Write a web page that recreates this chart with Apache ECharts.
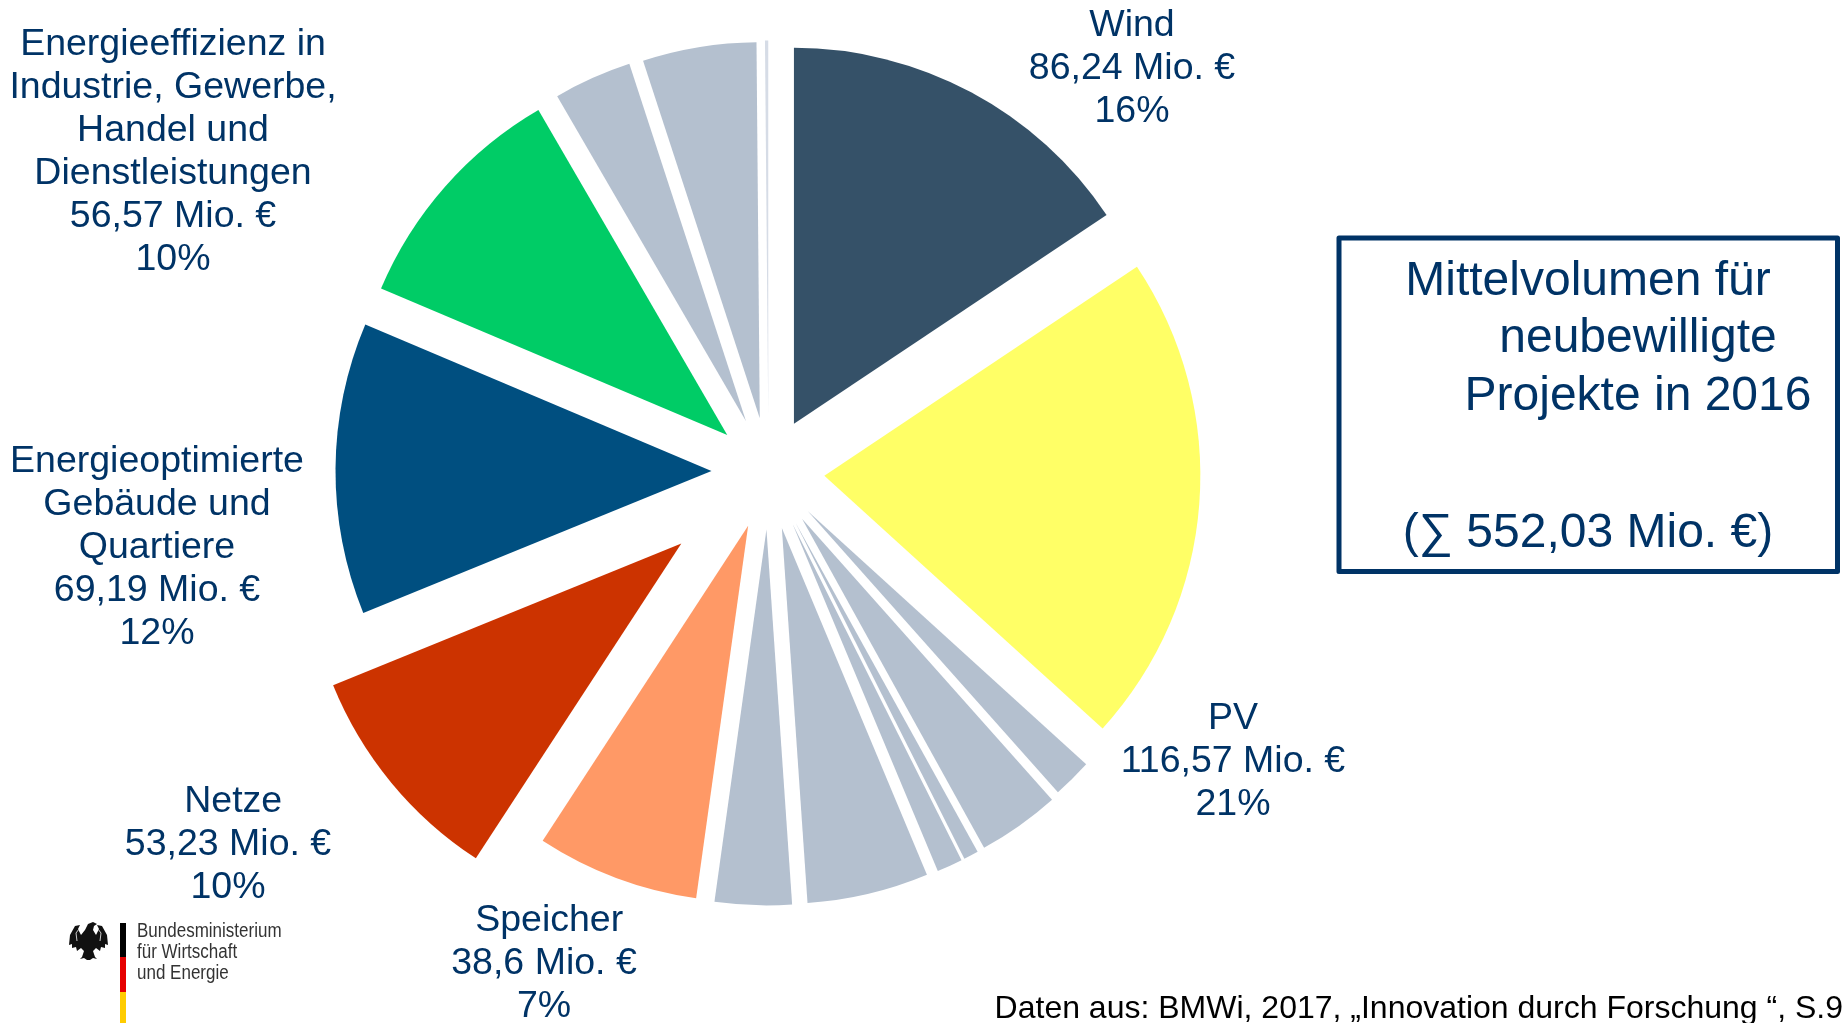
<!DOCTYPE html>
<html>
<head>
<meta charset="utf-8">
<title>Mittelvolumen 2016</title>
<script src="https://cdn.jsdelivr.net/npm/echarts@6/dist/echarts.min.js"></script>
<style>
  html, body { margin: 0; padding: 0; background: #fff; }
  #chart { width: 1843px; height: 1023px; }
</style>
</head>
<body>
<div id="chart"></div>
<script>
// values in Mio. EUR, clockwise from 12 o'clock. unlabelled grey ones are estimated from the angles
const sliceNames = ['Wind', 'PV', 'g1', 'g2', 'g3', 'g4', 'g5', 'g6', 'Speicher', 'Netze', 'Gebäude', 'Effizienz', 'g7', 'g8', 'g9'];
const sliceValues = [86.24, 116.57, 9.3, 19.5, 3.5, 6.1, 28.8, 18.2, 38.6, 53.23, 69.19, 56.57, 18.5, 26.96, 0.77];
const sliceColors = ['#355168', '#ffff66', '#b4c0cf', '#b4c0cf', '#b4c0cf', '#b4c0cf', '#b4c0cf', '#b4c0cf', '#ff9966', '#cc3300', '#004f80', '#00cc66', '#b4c0cf', '#b4c0cf', '#d6dce6'];
const sliceOffsets = [54, 56, 56, 58, 58, 58, 58, 58, 58, 113, 57, 55, 55, 54, 55];

const windLabel = 'Wind\n86,24 Mio. €\n16%';
const pvLabel = 'PV\n116,57 Mio. €\n21%';
const netzeLabel = '\u00a0Netze\n53,23 Mio. €\n10%';
const speicherLabel = '\u00a0Speicher\n38,6 Mio. €\n7%';
const gebaeudeLabel = 'Energieoptimierte\nGebäude und\nQuartiere\n69,19 Mio. €\n12%';
const effizienzLabel = 'Energieeffizienz in\nIndustrie, Gewerbe,\nHandel und\nDienstleistungen\n56,57 Mio. €\n10%';
const boxLines = ['Mittelvolumen für', 'neubewilligte', 'Projekte in 2016', '(∑ 552,03 Mio. €)'];
const sourceText = 'Daten aus: BMWi, 2017, „Innovation durch Forschung “, S.9';
const logoText = 'Bundesministerium\nfür Wirtschaft\nund Energie';

const navy = '#003366';
const font = '"Liberation Sans", Arial, sans-serif';

// every wedge is moved out by its own distance, selectedOffset only works per series
const series = sliceValues.map((v, i) => ({
  type: 'pie',
  center: [768.5, 471.5],
  radius: [0, 376],
  startAngle: 90,
  clockwise: true,
  silent: true,
  selectedMode: 'multiple',
  selectedOffset: sliceOffsets[i],
  avoidLabelOverlap: false,
  label: { show: false },
  labelLine: { show: false },
  emphasis: { disabled: true },
  data: sliceValues.map((value, j) => ({
    name: sliceNames[j],
    value: value,
    selected: j === i,
    itemStyle: { color: j === i ? sliceColors[j] : 'transparent', borderWidth: 0 }
  }))
}));

function label(text, x, top) {
  return {
    type: 'text', x: x, y: top, silent: true,
    style: { text: text, fill: navy, font: '37.5px ' + font, lineHeight: 43, align: 'center', verticalAlign: 'top' }
  };
}
function boxLine(text, x, y) {
  return {
    type: 'text', x: x, y: y, silent: true,
    style: { text: text, fill: navy, font: '48px ' + font, align: 'center', verticalAlign: 'middle' }
  };
}

const graphic = [
  label(windLabel, 1132, 4),
  label(pvLabel, 1233, 697),
  label(netzeLabel, 228, 780),
  label(speicherLabel, 544, 899),
  label(gebaeudeLabel, 157, 440),
  label(effizienzLabel, 173, 23),
  {
    type: 'rect', silent: true,
    shape: { x: 1339, y: 238, width: 498.5, height: 333.5 },
    style: { fill: 'none', stroke: navy, lineWidth: 5, lineJoin: 'round' }
  },
  boxLine(boxLines[0], 1588, 282),
  boxLine(boxLines[1], 1638, 339),
  boxLine(boxLines[2], 1638, 397),
  boxLine(boxLines[3], 1588, 534),
  {
    type: 'text', x: 1843, y: 1009, silent: true,
    style: { text: sourceText, fill: '#000', font: '32px ' + font, align: 'right', verticalAlign: 'middle' }
  },
  // logo
  { type: 'rect', silent: true, shape: { x: 120, y: 923, width: 6, height: 34 }, style: { fill: '#000' } },
  { type: 'rect', silent: true, shape: { x: 120, y: 957, width: 6, height: 35 }, style: { fill: '#e60000' } },
  { type: 'rect', silent: true, shape: { x: 120, y: 992, width: 6, height: 31 }, style: { fill: '#ffcc00' } },
  {
    type: 'text', x: 137, y: 921, scaleX: 0.85, silent: true,
    style: { text: logoText, fill: '#333', font: '20px ' + font, lineHeight: 21, align: 'left', verticalAlign: 'top' }
  },
  {
    type: 'polygon', silent: true, x: 69, y: 921,
    shape: {
      points: [[19, 3], [24, 1], [28, 3], [25, 5], [24, 9], [27, 14], [30, 8], [28, 4], [33, 5], [38, 14], [39, 24], [36, 23], [36, 27], [32, 26], [31, 30], [27, 27], [24, 30], [26, 36], [28, 38], [24, 37], [21, 39], [18, 39], [15, 37], [11, 38], [13, 36], [15, 30], [12, 27], [8, 30], [7, 26], [3, 27], [3, 23], [0, 24], [1, 14], [6, 5], [11, 4], [9, 8], [12, 14], [16, 9]]
    },
    style: { fill: '#111' }
  },
  // light wing arcs of the eagle
  {
    type: 'polyline', silent: true, x: 69, y: 921,
    shape: { points: [[8, 20], [7, 12], [10, 8]] },
    style: { stroke: '#ccc', fill: 'none', lineWidth: 1 }
  },
  {
    type: 'polyline', silent: true, x: 69, y: 921,
    shape: { points: [[31, 20], [32, 12], [29, 8]] },
    style: { stroke: '#ccc', fill: 'none', lineWidth: 1 }
  }
];

const chart = echarts.init(document.getElementById('chart'));
chart.setOption({
  animation: false,
  backgroundColor: '#fff',
  series: series,
  graphic: { elements: graphic }
});
</script>
</body>
</html>
